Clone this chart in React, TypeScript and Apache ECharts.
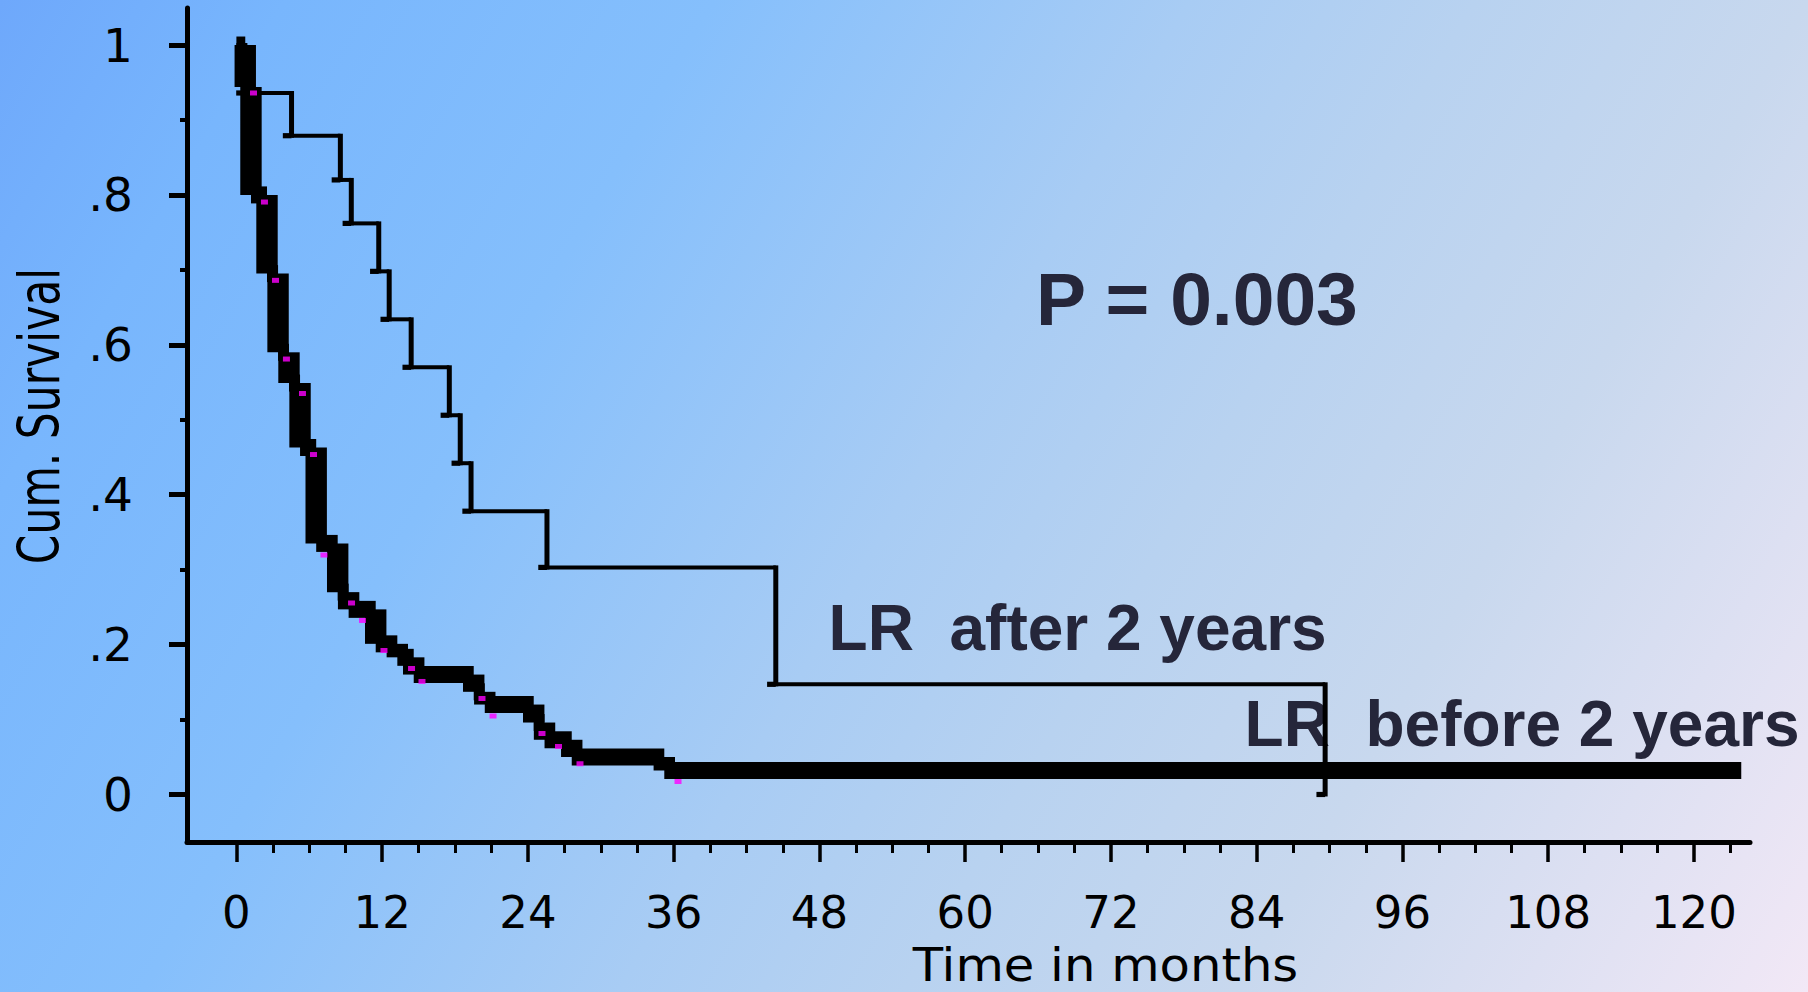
import React, { useEffect, useRef } from 'react';
import * as echarts from 'echarts';

// ---- axis ticks / labels ----
const xMajorTicks = [0, 12, 24, 36, 48, 60, 72, 84, 96, 108, 120];
const xMinorTicks = [3, 6, 9, 15, 18, 21, 27, 30, 33, 39, 42, 45, 51, 54, 57, 63, 66, 69, 75, 78, 81, 87, 90, 93, 99, 102, 105, 111, 114, 117, 123];
const yMajorTicks = [0, 0.2, 0.4, 0.6, 0.8, 1];
const yTickLabels = ['0', '.2', '.4', '.6', '.8', '1'];
const yMinorTicks = [0.1, 0.3, 0.5, 0.7, 0.9];

// ---- LR after 2 years (thin curve) ----
const afterTimes = [0, 0.7, 4.54, 8.56, 9.46, 11.72, 12.58, 14.39, 17.53, 18.43, 19.32, 25.57, 44.41, 89.64];
const afterSurv = [1.0, 0.936, 0.879, 0.820, 0.762, 0.698, 0.634, 0.570, 0.506, 0.442, 0.378, 0.303, 0.147, 0.0];

// ---- LR before 2 years (thick curve) ----
const beforeTimes = [0, 0.73, 1.2, 2.52, 3.43, 4.33, 5.24, 6.57, 8.34, 9.24, 11.47, 13.25, 14.6, 19.54, 20.45, 24.48, 25.37, 27.61, 35.23, 123.9];
const beforeSurv = [1.0, 0.944, 0.8, 0.695, 0.59, 0.549, 0.463, 0.335, 0.27, 0.247, 0.201, 0.183, 0.16, 0.137, 0.12, 0.096, 0.073, 0.05, 0.032, 0.032];

// ---- censor marks (magenta) ----
const censorTimes = [1.41, 2.31, 3.22, 4.12, 5.44, 6.35, 7.21, 9.48, 10.38, 12.15, 14.42, 15.28, 20.22, 21.13, 25.16, 26.52, 28.29, 36.36];
const censorSurv = [0.936, 0.7905, 0.686, 0.581, 0.535, 0.4536, 0.3195, 0.2555, 0.2322, 0.1921, 0.1681, 0.1508, 0.1281, 0.1047, 0.0814, 0.064, 0.041, 0.0173];

const X_MIN = -4.067;
const X_MAX = 124.62;
const Y_MIN = -0.0634;
const Y_MAX = 1.0494;

function stepSeries(
  name: string,
  times: number[],
  surv: number[],
  halfW: number,
  halfH: number,
  extendV: number,
  stubLen: number,
  stubHalf: number,
  z: number
) {
  const data: number[][] = [];
  for (let i = 1; i < times.length; i++) data.push([times[i - 1], surv[i - 1], times[i], surv[i]]);
  return {
    type: 'custom',
    name,
    coordinateSystem: 'cartesian2d',
    clip: false,
    silent: true,
    z,
    encode: { x: [0, 2], y: [1, 3] },
    data,
    renderItem: (params: any, api: any) => {
      const a = api.coord([api.value(0), api.value(1)]);
      const b = api.coord([api.value(2), api.value(3)]);
      const fill = '#000000';
      const children: any[] = [
        {
          type: 'rect',
          shape: { x: a[0], y: a[1] - halfH, width: Math.max(0, b[0] - a[0]), height: 2 * halfH },
          style: { fill },
        },
      ];
      if (b[1] - a[1] > 0.5) {
        children.push({
          type: 'rect',
          shape: { x: b[0] - halfW, y: a[1] - extendV, width: 2 * halfW, height: b[1] - a[1] + 2 * extendV },
          style: { fill },
        });
        if (stubLen > 0) {
          children.push({
            type: 'rect',
            shape: { x: b[0] - stubLen, y: b[1] - stubHalf, width: stubLen, height: 2 * stubHalf },
            style: { fill },
          });
        }
      }
      return { type: 'group', children };
    },
  };
}

export default function App() {
  const ref = useRef<HTMLDivElement>(null);
  useEffect(() => {
    if (!ref.current) return;
    const chart = echarts.init(ref.current, undefined, { renderer: 'svg' });
    const axisFont = '"DejaVu Sans", "Liberation Sans", Arial, sans-serif';
    const boldFont = '"Liberation Sans", Arial, Helvetica, sans-serif';
    const option: any = {
      animation: false,
      backgroundColor: 'transparent',
      grid: { left: 187, right: 58, top: 8, bottom: 150, containLabel: false, outerBoundsMode: 'none' },
      xAxis: [
        {
          type: 'value',
          min: X_MIN,
          max: X_MAX,
          position: 'bottom',
          axisLine: { show: true, onZero: false, lineStyle: { color: '#000', width: 5 } },
          axisTick: { show: true, customValues: xMajorTicks, length: 20, lineStyle: { color: '#000', width: 3.5 } },
          axisLabel: {
            show: true,
            customValues: xMajorTicks,
            margin: 48,
            fontSize: 45,
            lineHeight: 45,
            fontFamily: axisFont,
            color: '#000',
          },
          splitLine: { show: false },
        },
        {
          type: 'value',
          min: X_MIN,
          max: X_MAX,
          position: 'bottom',
          axisLine: { show: false, onZero: false },
          axisTick: { show: true, customValues: xMinorTicks, length: 11, lineStyle: { color: '#000', width: 3 } },
          axisLabel: { show: false },
          splitLine: { show: false },
        },
      ],
      yAxis: [
        {
          type: 'value',
          min: Y_MIN,
          max: Y_MAX,
          position: 'left',
          axisLine: { show: true, onZero: false, lineStyle: { color: '#000', width: 5 } },
          axisTick: { show: true, customValues: yMajorTicks, length: 18, lineStyle: { color: '#000', width: 5 } },
          axisLabel: {
            show: true,
            customValues: yMajorTicks,
            margin: 54,
            fontSize: 47,
            fontFamily: axisFont,
            color: '#000',
            formatter: (v: number) => {
              const i = yMajorTicks.findIndex((t) => Math.abs(t - v) < 1e-6);
              return i >= 0 ? yTickLabels[i] : '';
            },
          },
          splitLine: { show: false },
        },
        {
          type: 'value',
          min: Y_MIN,
          max: Y_MAX,
          position: 'left',
          axisLine: { show: false, onZero: false },
          axisTick: { show: true, customValues: yMinorTicks, length: 7, lineStyle: { color: '#000', width: 4 } },
          axisLabel: { show: false },
          splitLine: { show: false },
        },
      ],
      series: [
        stepSeries('LR after 2 years', afterTimes, afterSurv, 2.5, 2, 2, 8.7, 2.6, 2),
        stepSeries('LR before 2 years', beforeTimes, beforeSurv, 10.7, 8.5, 0, 0, 0, 3),
        {
          type: 'scatter',
          name: 'censored',
          data: censorTimes.map((t, i) => [t, censorSurv[i]]),
          symbol: 'rect',
          symbolSize: [7, 5],
          itemStyle: { color: '#ff00ff' },
          z: 5,
          silent: true,
          clip: false,
        },
      ],
      graphic: [
        {
          type: 'text',
          x: 39,
          y: 416,
          rotation: Math.PI / 2,
          scaleY: 1.34,
          style: {
            text: 'Cum. Survival',
            font: `42.5px ${axisFont}`,
            fill: '#000',
            textAlign: 'center',
            textVerticalAlign: 'middle',
            align: 'center',
            verticalAlign: 'middle',
          },
        },
        {
          type: 'text',
          x: 1105.5,
          y: 965,
          scaleX: 1.08,
          style: {
            text: 'Time in months',
            font: `46px ${axisFont}`,
            lineHeight: 44,
            fill: '#000',
            textAlign: 'center',
            textVerticalAlign: 'middle',
            align: 'center',
            verticalAlign: 'middle',
          },
        },
        {
          type: 'text',
          x: 1036,
          y: 298.5,
          style: {
            text: 'P = 0.003',
            font: `bold 75px ${boldFont}`,
            fill: '#25263a',
            textAlign: 'left',
            textVerticalAlign: 'middle',
            align: 'left',
            verticalAlign: 'middle',
          },
        },
        {
          type: 'text',
          x: 828.6,
          y: 628,
          style: {
            text: 'LR  after 2 years',
            font: `bold 64px ${boldFont}`,
            fill: '#25263a',
            textAlign: 'left',
            textVerticalAlign: 'middle',
            align: 'left',
            verticalAlign: 'middle',
          },
        },
        {
          type: 'text',
          x: 1244.6,
          y: 724,
          style: {
            text: 'LR  before 2 years',
            font: `bold 64px ${boldFont}`,
            fill: '#25263a',
            textAlign: 'left',
            textVerticalAlign: 'middle',
            align: 'left',
            verticalAlign: 'middle',
          },
        },
      ],
    };
    chart.setOption(option);
    return () => {
      chart.dispose();
    };
  }, []);

  return (
    <div
      ref={ref}
      style={{
        position: 'fixed',
        left: 0,
        top: 0,
        width: 1808,
        height: 992,
        background:
          'linear-gradient(120deg, #6ea8fb 0%, #78b6fd 12%, #85bffc 30%, #a8ccf4 50%, #b8d2f0 62%, #c8d8ee 76%, #f2e8f6 100%)',
      }}
    />
  );
}
